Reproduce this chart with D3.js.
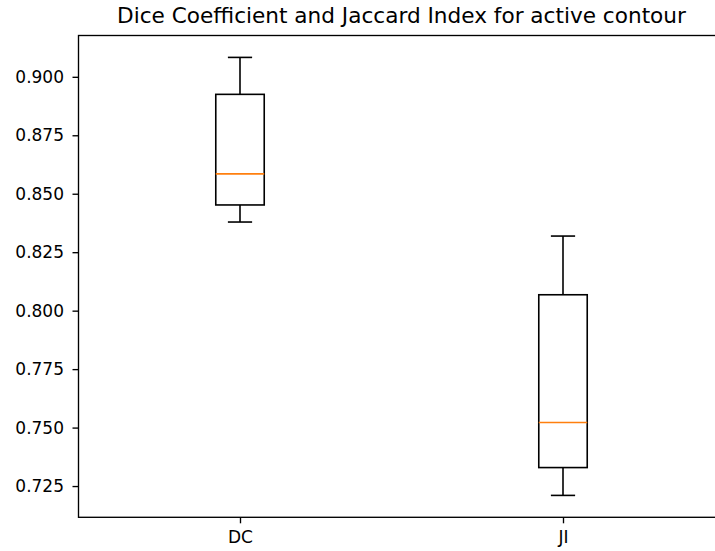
<!DOCTYPE html>
<html>
<head>
<meta charset="utf-8">
<script src="https://cdn.jsdelivr.net/npm/d3@7"></script>
<style>
  html, body { margin: 0; padding: 0; background: #fff; }
  svg { display: block; }
  text { font-family: "DejaVu Sans", sans-serif; fill: #000; }
</style>
</head>
<body>
<svg id="chart" width="715" height="551"></svg>
<script>
// Box statistics per metric
const categories = ["DC", "JI"];
const whiskerLow  = [0.8379, 0.7210];
const quartile1   = [0.8452, 0.7329];
const medians     = [0.8585, 0.7522];
const quartile3   = [0.8925, 0.8068];
const whiskerHigh = [0.9083, 0.8319];
const yTicks = [0.725, 0.750, 0.775, 0.800, 0.825, 0.850, 0.875, 0.900];
const title = "Dice Coefficient and Jaccard Index for active contour";

const svg = d3.select("#chart");
const plot = { left: 78.5, right: 724.5, top: 35.5, bottom: 517.3 };

// y limits padded by 5% of the data range on each side
const lo = d3.min(whiskerLow), hi = d3.max(whiskerHigh);
const pad = (hi - lo) * 0.05;
const y = d3.scaleLinear().domain([lo - pad, hi + pad]).range([plot.bottom, plot.top]);
const positions = categories.map((c, i) => i + 1);
const x = d3.scaleLinear().domain([0.5, categories.length + 0.5]).range([plot.left, plot.right]);

const boxW = 0.15, capW = boxW / 2;
const lw = 1.6;

// boxes
const g = svg.append("g");
categories.forEach((c, i) => {
  const p = positions[i];
  const bx0 = x(p - boxW / 2), bx1 = x(p + boxW / 2);
  const cx = x(p);
  const line = (x1, y1, x2, y2, color) => g.append("line")
    .attr("x1", x1).attr("y1", y1).attr("x2", x2).attr("y2", y2)
    .attr("stroke", color || "#000").attr("stroke-width", lw);
  // whiskers
  line(cx, y(quartile3[i]), cx, y(whiskerHigh[i]));
  line(cx, y(quartile1[i]), cx, y(whiskerLow[i]));
  // caps
  line(x(p - capW / 2), y(whiskerHigh[i]), x(p + capW / 2), y(whiskerHigh[i]));
  line(x(p - capW / 2), y(whiskerLow[i]), x(p + capW / 2), y(whiskerLow[i]));
  // box
  g.append("rect")
    .attr("x", bx0).attr("y", y(quartile3[i]))
    .attr("width", bx1 - bx0).attr("height", y(quartile1[i]) - y(quartile3[i]))
    .attr("fill", "none").attr("stroke", "#000").attr("stroke-width", lw);
  // median
  line(bx0, y(medians[i]), bx1, y(medians[i]), "#ff7f0e");
});

// axes
const yAxis = d3.axisLeft(y).tickValues(yTicks).tickFormat(d3.format(".3f"))
  .tickSizeInner(6).tickSizeOuter(0).tickPadding(8.5);
const yG = svg.append("g").attr("transform", `translate(${plot.left},0)`).call(yAxis);
const xAxis = d3.axisBottom(x).tickValues(positions).tickFormat((d) => categories[d - 1])
  .tickSizeInner(6).tickSizeOuter(0).tickPadding(7.4);
const xG = svg.append("g").attr("transform", `translate(0,${plot.bottom})`).call(xAxis);
[yG, xG].forEach(a => {
  a.select(".domain").remove();
  a.selectAll(".tick line").attr("stroke", "#000").attr("stroke-width", 1.35);
  a.selectAll(".tick text").style("font-family", "DejaVu Sans, sans-serif")
    .style("font-size", "17px").attr("fill", "#222");
});

// frame
svg.append("rect")
  .attr("x", plot.left).attr("y", plot.top)
  .attr("width", plot.right - plot.left).attr("height", plot.bottom - plot.top)
  .attr("fill", "none").attr("stroke", "#000").attr("stroke-width", 1.35);

// title
svg.append("text")
  .attr("x", (plot.left + plot.right) / 2).attr("y", 23)
  .attr("text-anchor", "middle")
  .style("font-size", "21.6px")
  .attr("fill", "#222")
  .text(title);
</script>
</body>
</html>
